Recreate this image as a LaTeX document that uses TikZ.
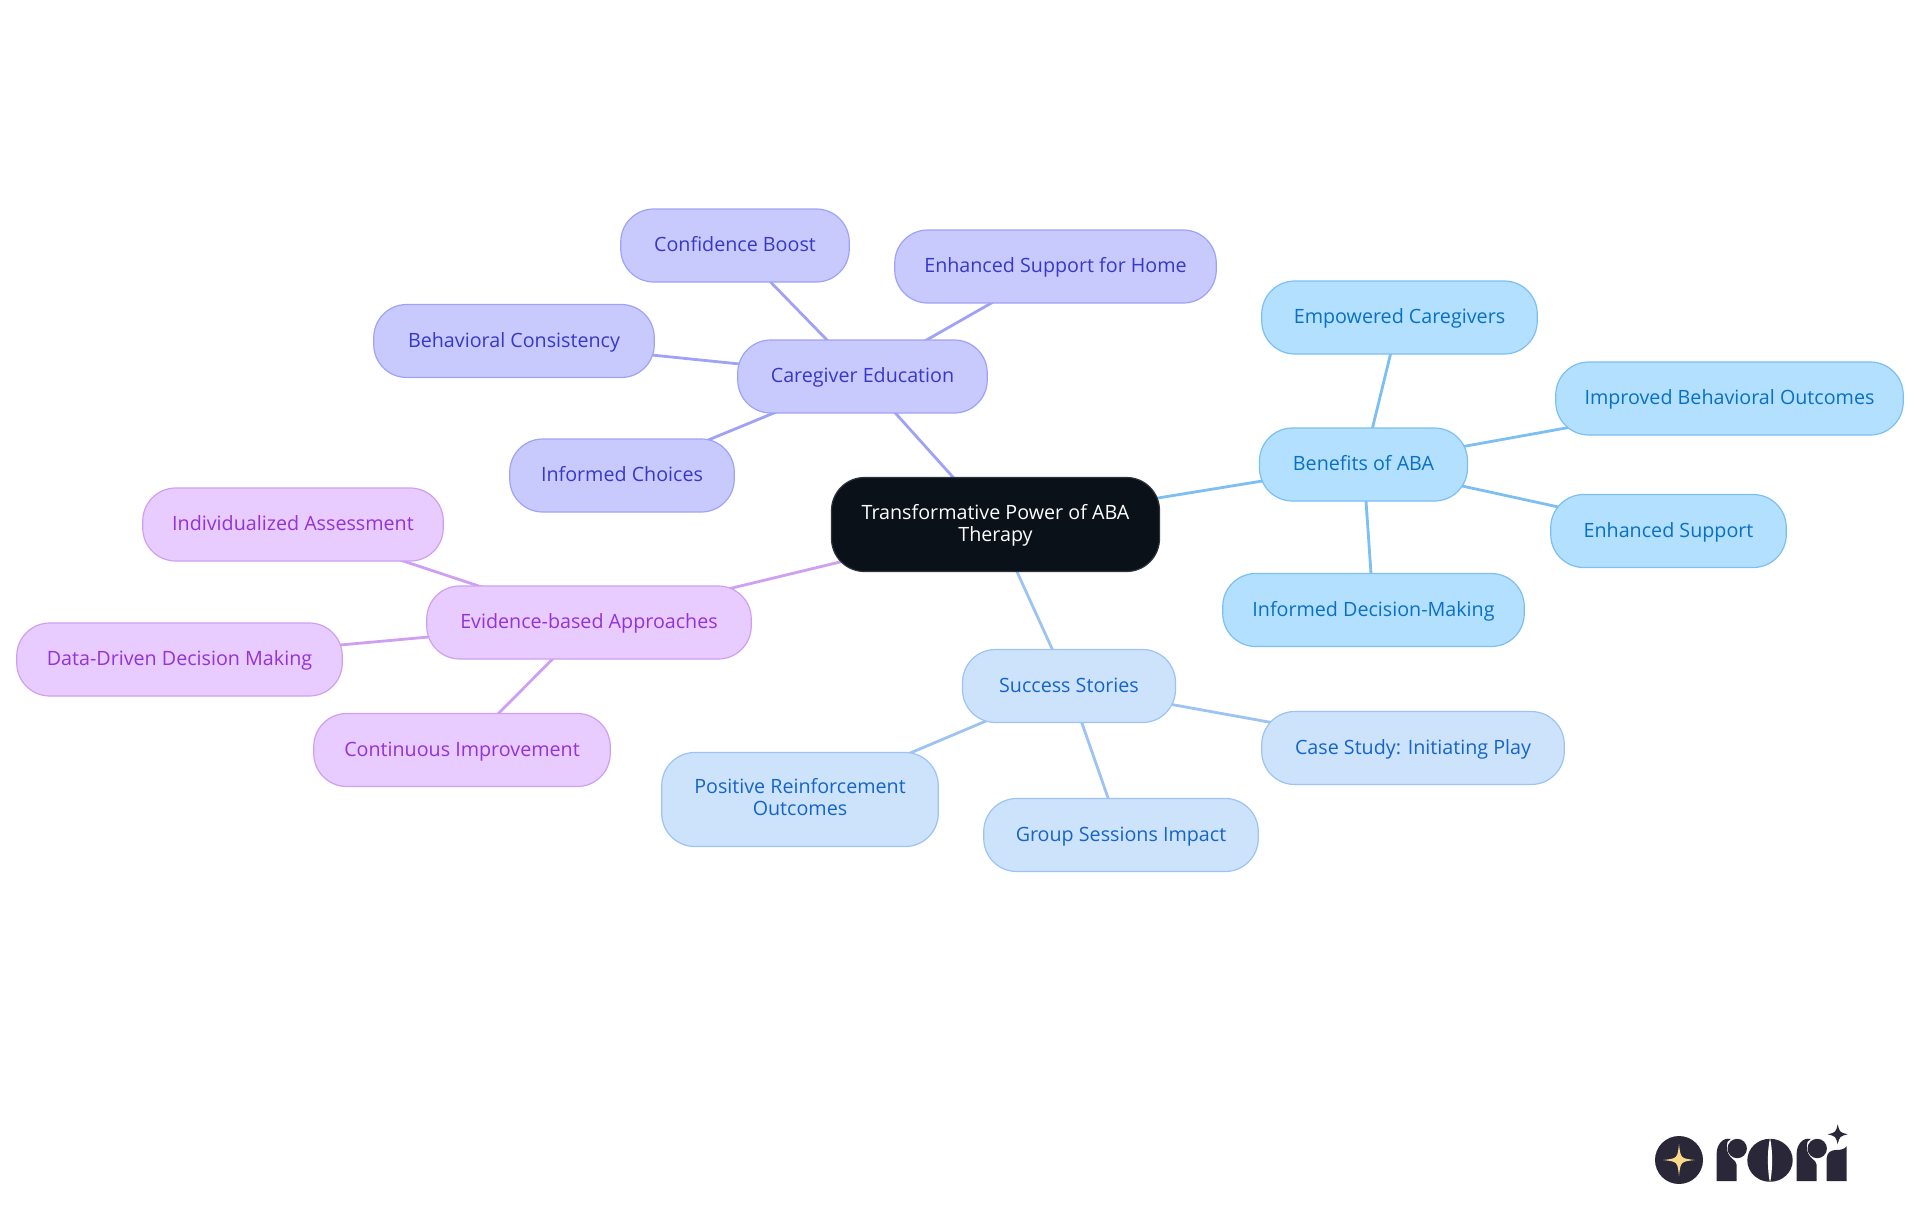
\documentclass[tikz,border=0pt]{standalone}
\usepackage{fontspec}
\setmainfont{Open Sans}
\usetikzlibrary{backgrounds}
\definecolor{rootfill}{HTML}{0B1119}
\definecolor{rootline}{HTML}{2E333A}
\definecolor{benefitfill}{HTML}{B3E0FF}
\definecolor{benefitline}{HTML}{7CBFF2}
\definecolor{benefittext}{HTML}{0A70C4}
\definecolor{carefill}{HTML}{C8CAFE}
\definecolor{careline}{HTML}{9FA2F5}
\definecolor{caretext}{HTML}{3838C8}
\definecolor{evidfill}{HTML}{E8CBFF}
\definecolor{evidline}{HTML}{CFA0F0}
\definecolor{evidtext}{HTML}{9333D8}
\definecolor{storyfill}{HTML}{CDE3FC}
\definecolor{storyline}{HTML}{9CC3F2}
\definecolor{storytext}{HTML}{1565C8}
\definecolor{logodark}{HTML}{2A2838}
\definecolor{logostar}{HTML}{FBD98A}
\tikzset{
  topic/.style={ % image of any rounded box
    draw, rectangle, rounded corners=33pt, line width=1.2pt,
    minimum height=73pt, inner sep=0pt, align=center,
    text height=16pt, text depth=4pt,
    font=\fontsize{19.7}{22}\selectfont
  },
  twolines/.style={minimum height=94pt, text height=, text depth=5pt},
  rootnode/.style={topic, fill=rootfill, draw=rootline, text=white},
  benefit/.style={topic, fill=benefitfill, draw=benefitline, text=benefittext},
  care/.style={topic, fill=carefill, draw=careline, text=caretext},
  evid/.style={topic, fill=evidfill, draw=evidline, text=evidtext},
  story/.style={topic, fill=storyfill, draw=storyline, text=storytext},
  link/.style={line width=2.8pt},
  glint/.pic={ % thin star on the round badge
    \fill (0,-1) .. controls (0.1,-0.1) .. (1,0)
      .. controls (0.1,0.1) .. (0,1)
      .. controls (-0.1,0.1) .. (-1,0)
      .. controls (-0.1,-0.1) .. cycle;
  },
  sparkle/.pic={
    \fill (0,-1) .. controls (0.2,-0.2) .. (1,0)
      .. controls (0.2,0.2) .. (0,1)
      .. controls (-0.2,0.2) .. (-1,0)
      .. controls (-0.2,-0.2) .. cycle;
  },
  letterr/.pic={ % stem and dot, from the stem's bottom left corner
    \fill (0,0) -- (20,0) -- (20,-16)
      .. controls (20,-22) and (10,-22) .. (10,-35)
      .. controls (10,-38) and (11,-41) .. (14,-42)
      .. controls (6,-44) and (0,-36) .. (0,-28) -- cycle;
    \fill (20.5,-32.5) circle (9.7);
  }
}
\begin{document}
\begin{tikzpicture}[x=1pt,y=-1pt]
  \useasboundingbox (0,0) rectangle (1920,1215);

  \node[rootnode,twolines,text depth=2.5pt,minimum width=328pt] (root) at (995.5,524.5) {Transformative Power of ABA\\Therapy};

  \node[benefit,minimum width=208pt] (benefits) at (1363.5,464.5) {Benefits of ABA};
  \node[benefit,minimum width=275.5pt] (empowered) at (1399.5,317.5) {Empowered Caregivers};
  \node[benefit,minimum width=347.5pt] (improved) at (1729.5,398.5) {Improved Behavioral Outcomes};
  \node[benefit,minimum width=235.5pt] (enhanced) at (1668.5,531) {Enhanced Support};
  \node[benefit,minimum width=301.5pt] (decision) at (1373.5,610) {Informed Decision-Making};

  \node[care,minimum width=249.5pt] (caregiver) at (862.5,376.5) {Caregiver Education};
  \node[care,minimum width=228.5pt] (confidence) at (735,245.5) {Confidence Boost};
  \node[care,minimum width=321.5pt] (home) at (1055.5,266.5) {Enhanced Support for Home};
  \node[care,minimum width=280.5pt] (consistency) at (514,341) {Behavioral Consistency};
  \node[care,minimum width=224.5pt] (choices) at (622,475.5) {Informed Choices};

  \node[evid,minimum width=324.5pt] (evidence) at (589,622.5) {Evidence-based Approaches};
  \node[evid,minimum width=300.5pt] (assessment) at (293,524.5) {Individualized Assessment};
  \node[evid,minimum width=325.5pt] (datadriven) at (179.5,659.5) {Data-Driven Decision Making};
  \node[evid,minimum width=296.5pt] (continuous) at (462,750) {Continuous Improvement};

  \node[story,minimum width=213pt] (success) at (1069,686) {Success Stories};
  \node[story,minimum width=302.5pt] (casestudy) at (1413,748) {Case Study: Initiating Play};
  \node[story,twolines,minimum width=276.5pt] (positive) at (800,799.5) {Positive Reinforcement\\Outcomes};
  \node[story,minimum width=274.5pt] (group) at (1121,835) {Group Sessions Impact};

  \begin{scope}[on background layer]
    \draw[link,benefitline] (root.center) -- (benefits.center);
    \draw[link,benefitline] (benefits.center) -- (empowered.center);
    \draw[link,benefitline] (benefits.center) -- (improved.center);
    \draw[link,benefitline] (benefits.center) -- (enhanced.center);
    \draw[link,benefitline] (benefits.center) -- (decision.center);

    \draw[link,careline] (root.center) -- (caregiver.center);
    \draw[link,careline] (caregiver.center) -- (confidence.center);
    \draw[link,careline] (caregiver.center) -- (home.center);
    \draw[link,careline] (caregiver.center) -- (consistency.center);
    \draw[link,careline] (caregiver.center) -- (choices.center);

    \draw[link,evidline] (root.center) -- (evidence.center);
    \draw[link,evidline] (evidence.center) -- (assessment.center);
    \draw[link,evidline] (evidence.center) -- (datadriven.center);
    \draw[link,evidline] (evidence.center) -- (continuous.center);

    \draw[link,storyline] (root.center) -- (success.center);
    \draw[link,storyline] (success.center) -- (casestudy.center);
    \draw[link,storyline] (success.center) -- (positive.center);
    \draw[link,storyline] (success.center) -- (group.center);
  \end{scope}

  % logo
  \fill[logodark] (1679,1160) circle (24);
  \path (1679,1160) pic[scale=16,logostar] {glint};
  \path (1716.7,1181) pic[logodark] {letterr};
  \fill[logodark] (1770,1160.3) ellipse (22.7 and 21.5);
  \fill[white] (1770,1138) .. controls (1772.8,1150) and (1772.8,1170) .. (1770,1183) .. controls (1767.2,1170) and (1767.2,1150) .. cycle;
  \path (1796.7,1181) pic[logodark] {letterr};
  \fill[logodark] (1826.7,1181) -- (1826.7,1158) .. controls (1826.7,1152) and (1832,1150) .. (1836,1150) .. controls (1841,1150) and (1845,1149) .. (1846.7,1146) -- (1846.7,1181) -- cycle;
  \path (1837.7,1134.3) pic[scale=10,logodark] {sparkle};
\end{tikzpicture}
\end{document}
